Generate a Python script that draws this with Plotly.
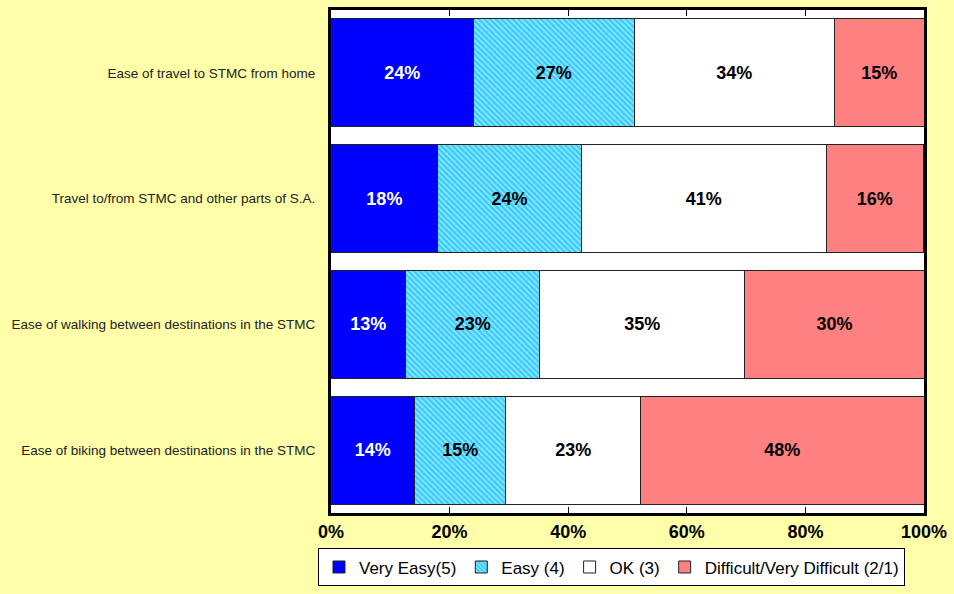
import plotly.graph_objects as go

categories = [
    "Ease of travel to STMC from home",
    "Travel to/from STMC and other parts of S.A.",
    "Ease of walking between destinations in the STMC",
    "Ease of biking between destinations in the STMC",
]
very_easy = [24.0, 18.0, 12.6, 14.1]
easy = [27.1, 24.2, 22.6, 15.4]
ok = [33.8, 41.3, 34.6, 22.7]
difficult = [15.1, 16.4, 30.2, 47.8]

x_ticks = [0, 20, 40, 60, 80, 100]

label_font = dict(size=18, family='Arial', weight='bold')

fig = go.Figure()

# Very Easy (5)
fig.add_trace(go.Bar(
    y=categories, x=very_easy, orientation='h', name='Very Easy(5)',
    marker=dict(color='#0000FF', line=dict(color='#222222', width=1)),
    texttemplate='%{x:.0f}%', textposition='inside', insidetextanchor='middle',
    textfont=dict(color='white', **label_font),
))

# Easy (4) - hatched cyan
fig.add_trace(go.Bar(
    y=categories, x=easy, orientation='h', name='Easy (4)',
    marker=dict(color='#33CCFF', line=dict(color='#222222', width=1),
                pattern=dict(shape='\\', fgcolor='white', size=4, solidity=0.4,
                             fillmode='overlay')),
    texttemplate='%{x:.0f}%', textposition='inside', insidetextanchor='middle',
    textfont=dict(color='black', **label_font),
))

# OK (3)
fig.add_trace(go.Bar(
    y=categories, x=ok, orientation='h', name='OK (3)',
    marker=dict(color='white', line=dict(color='#222222', width=1)),
    texttemplate='%{x:.0f}%', textposition='inside', insidetextanchor='middle',
    textfont=dict(color='black', **label_font),
))

# Difficult/Very Difficult (2/1)
fig.add_trace(go.Bar(
    y=categories, x=difficult, orientation='h', name='Difficult/Very Difficult (2/1)',
    marker=dict(color='#FF8080', line=dict(color='#222222', width=1)),
    texttemplate='%{x:.0f}%', textposition='inside', insidetextanchor='middle',
    textfont=dict(color='black', **label_font),
))

fig.update_layout(
    barmode='stack',
    bargap=0.14,
    width=954, height=594,
    margin=dict(l=331, r=28, t=7, b=75),
    paper_bgcolor='#FFFFAA',
    plot_bgcolor='white',
    font=dict(family='Arial', color='black'),
    uniformtext=dict(minsize=10, mode='show'),
    legend=dict(
        orientation='h', x=0.473, xanchor='center',
        y=-0.146, yanchor='bottom',
        bgcolor='white', bordercolor='black', borderwidth=1,
        font=dict(size=17, family='Arial'), traceorder='normal',
        itemwidth=30, tracegroupgap=0,
    ),
    showlegend=True,
)

fig.update_xaxes(
    range=[0, 100], tickvals=x_ticks, ticktext=[f'{v}%' for v in x_ticks],
    tickfont=dict(size=18, family='Arial', weight='bold', color='black'),
    ticks='inside', ticklen=6, tickcolor='black', tickwidth=1,
    showline=True, linecolor='black', linewidth=3, mirror='ticks',
    showgrid=False, zeroline=False,
)
fig.update_yaxes(
    autorange='reversed',
    tickfont=dict(size=13.5, family='Arial', color='#222222'),
    showline=True, linecolor='black', linewidth=3, mirror=True,
    ticks='', ticklabelstandoff=10,
)

fig.write_html("out.html", config={'displayModeBar': False},
               post_script="document.body.style.margin='0';")
